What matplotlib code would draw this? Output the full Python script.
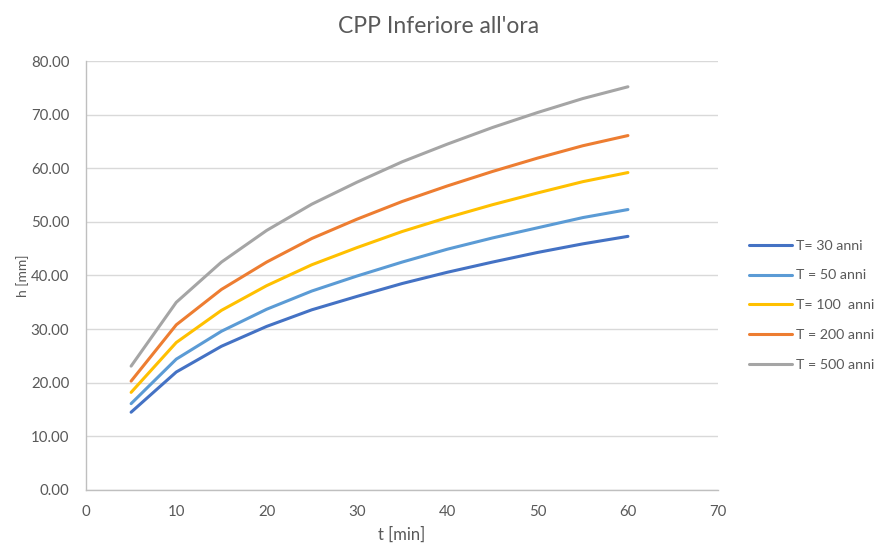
import matplotlib
matplotlib.use("Agg")
import matplotlib.pyplot as plt

plt.rcParams['font.family'] = ['Lato', 'DejaVu Sans']

# durations [min]
t = [5, 10, 15, 20, 25, 30, 35, 40, 45, 50, 55, 60]

# rainfall depth h [mm] for each return period
h_30 = [14.5, 22.0, 26.8, 30.5, 33.6, 36.1, 38.5, 40.6, 42.5, 44.3, 45.9, 47.3]
h_50 = [16.1, 24.4, 29.6, 33.7, 37.1, 39.9, 42.5, 44.9, 47.0, 48.9, 50.8, 52.3]
h_100 = [18.2, 27.5, 33.5, 38.1, 42.0, 45.2, 48.2, 50.8, 53.2, 55.4, 57.5, 59.2]
h_200 = [20.3, 30.8, 37.4, 42.5, 46.9, 50.5, 53.8, 56.7, 59.4, 61.9, 64.2, 66.1]
h_500 = [23.1, 35.0, 42.5, 48.4, 53.3, 57.4, 61.2, 64.5, 67.6, 70.4, 73.0, 75.2]

labels = ["T= 30 anni", "T = 50 anni", "T= 100  anni", "T = 200 anni", "T = 500 anni"]
colors = ["#4472C4", "#5B9BD5", "#FFC000", "#ED7D31", "#A5A5A5"]
series = [h_30, h_50, h_100, h_200, h_500]

fig = plt.figure(figsize=(8.77, 5.45), dpi=100)
ax = fig.add_axes([0.098, 0.101, 0.721, 0.787])

for h, lab, c in zip(series, labels, colors):
    ax.plot(t, h, color=c, lw=2.2, label=lab, solid_capstyle='round',
            solid_joinstyle='round')

ax.set_xlim(0, 70)
ax.set_ylim(0, 80)
ax.set_xticks(range(0, 71, 10))
ax.set_yticks(range(0, 81, 10))
ax.yaxis.set_major_formatter(matplotlib.ticker.FormatStrFormatter('%.2f'))
ax.grid(axis='y', color='#d9d9d9', lw=1)
ax.set_axisbelow(True)
for s in ['top', 'right']:
    ax.spines[s].set_visible(False)
for s in ['left', 'bottom']:
    ax.spines[s].set_color('#bfbfbf')
    ax.spines[s].set_linewidth(1)
ax.tick_params(axis='y', length=0, labelsize=10.8, colors='#595959', pad=12)
ax.tick_params(axis='x', length=0, labelsize=10.8, colors='#595959', pad=11)

ax.set_xlabel("t [min]", fontsize=12, color='#595959', labelpad=5)
ax.set_ylabel("h [mm]", fontsize=10, color='#595959', labelpad=1)
fig.text(0.5, 0.952, "CPP Inferiore all'ora", fontsize=16.5, color='#595959',
         ha='center', va='center')

fig.legend(loc='center left', bbox_to_anchor=(0.840, 0.44), frameon=False,
           fontsize=10.2, handlelength=3.0, labelspacing=1.25, handletextpad=0.3,
           labelcolor='#595959')

plt.savefig("out.png", dpi=100)
